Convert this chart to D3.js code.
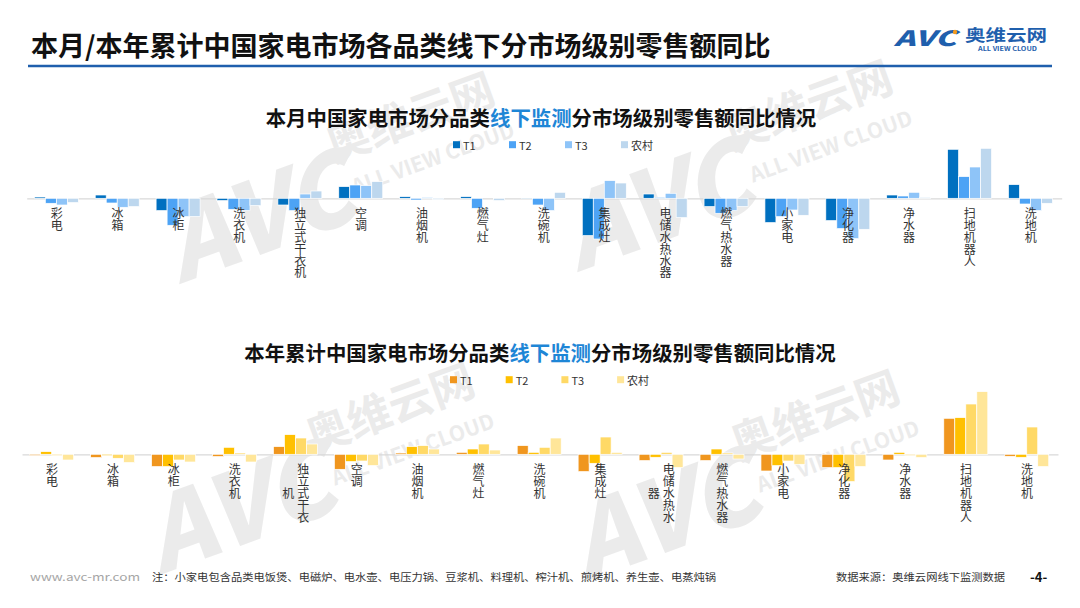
<!DOCTYPE html>
<html><head><meta charset="utf-8">
<script src="https://cdn.jsdelivr.net/npm/d3@7"></script>
<style>
body{margin:0;background:#fff}
svg{display:block}
text{font-family:"Noto Sans CJK SC","Noto Sans",sans-serif}
</style>
</head><body>
<svg id="c" width="1080" height="608"></svg>
<script>
// ---- data ----
const categories = ["彩电","冰箱","冰柜","洗衣机","独立式干衣机","空调","油烟机","燃气灶","洗碗机","集成灶","电储水热水器","燃气热水器","小家电","净化器","净水器","扫地机器人","洗地机"];
const seriesNames = ["T1","T2","T3","农村"];

// 本月 (%)
const monthT1    = [1.3, 3.3, -12.3, -2.3, -6.7, 11.7, 1.7, 1.7, -0.3, -37.3, 4.3, -8.3, -24.3, -22.3, 3.3, 49.0, 13.7];
const monthT2    = [-5.0, -4.7, -27.0, -11.0, -12.3, 13.3, -1.7, -10.0, -6.7, -40.7, 1.0, -15.0, -18.3, -30.3, 2.3, 21.7, -5.7];
const monthT3    = [-6.7, -9.0, -18.3, -12.3, 4.3, 12.7, 1.0, 0.0, -12.3, 17.7, 5.0, -12.3, -11.7, -40.3, 6.0, 31.3, -12.3];
const monthRural = [-4.3, -8.3, -18.3, -7.3, 7.3, 16.7, -1.3, -2.3, 6.0, 15.3, -19.3, -8.3, -17.0, -31.0, 1.0, 50.0, -5.0];

// 本年累计 (%)
const yearT1    = [-1.3, -3.3, -12.3, -2.3, 7.7, -15.0, 1.3, 2.0, 8.7, -17.3, -6.3, -6.3, -16.7, -13.3, -5.7, 36.0, -2.0];
const yearT2    = [2.7, -1.3, -12.3, 7.0, 19.7, -7.3, 7.7, 5.3, 2.0, -9.0, -3.0, 5.3, -11.3, -13.3, 2.0, 36.7, -3.0];
const yearT3    = [-1.3, -4.0, -5.7, 1.3, 16.3, -6.7, 8.7, 10.3, 7.0, 17.3, 2.0, 1.3, -6.7, -27.3, -1.3, 50.3, 27.3];
const yearRural = [-5.7, -8.3, -7.7, -7.7, 10.3, -11.3, 5.3, 4.3, 16.3, 2.0, -13.3, -4.7, -10.0, -12.3, -3.3, 62.7, -12.3];

const mainTitle = "本月/本年累计中国家电市场各品类线下分市场级别零售额同比";
const title1Parts = ["本月中国家电市场分品类", "线下监测", "分市场级别零售额同比情况"];
const title2Parts = ["本年累计中国家电市场分品类", "线下监测", "分市场级别零售额同比情况"];
const footNote = "注：小家电包含品类电饭煲、电磁炉、电水壶、电压力锅、豆浆机、料理机、榨汁机、煎烤机、养生壶、电蒸炖锅";
const footSource = "数据来源：奥维云网线下监测数据";
const footUrl = "www.avc-mr.com";
const pageNo = "-4-";

const monthColors = ["#0070C0", "#4DA3F5", "#8EC4F8", "#BDD7EE"];
const yearColors  = ["#F0961E", "#FFC000", "#FFD966", "#FFE699"];

// ---- drawing ----
const svg = d3.select("#c");

// watermarks
function watermark(ax, ay){
  const g = svg.append("g").attr("transform", `translate(${ax},${ay}) rotate(-20)`)
    .attr("fill", "#d0d0d0").attr("opacity", 0.42);
  g.append("text").attr("x", 0).attr("y", 0).attr("font-size", 100).attr("font-weight", 900)
    .attr("font-style", "italic").attr("font-family", "Liberation Sans, sans-serif").text("AVC");
  g.append("text").attr("x", 185).attr("y", -62).attr("font-size", 44).attr("font-weight", 700).text("奥维云网");
  g.append("text").attr("x", 195).attr("y", -24).attr("font-size", 21).attr("font-weight", 700)
    .attr("font-family", "Liberation Sans, sans-serif").text("ALL VIEW CLOUD");
}
watermark(180, 284);
watermark(578, 272);
watermark(160, 575);
watermark(585, 582);

// header
svg.append("text").attr("x", 31).attr("y", 44).attr("dominant-baseline", "central")
  .attr("font-size", 27).attr("font-weight", 700).attr("fill", "#111").text(mainTitle);
svg.append("line").attr("x1", 28).attr("x2", 1052).attr("y1", 66).attr("y2", 66)
  .attr("stroke", "#1F5FAD").attr("stroke-width", 2.5);

// logo
const logo = svg.append("g");
logo.append("text").attr("x", 894).attr("y", 46).attr("font-size", 21).attr("font-weight", 900)
  .attr("font-style", "italic").attr("font-family", "Liberation Sans, sans-serif")
  .attr("fill", "#1F5FAD").attr("textLength", 62).attr("lengthAdjust", "spacingAndGlyphs").text("AVC");
logo.append("circle").attr("cx", 955).attr("cy", 32).attr("r", 2.2).attr("fill", "#F39A1E");
logo.append("text").attr("x", 965).attr("y", 41).attr("font-size", 16).attr("font-weight", 700)
  .attr("fill", "#1F5FAD").attr("textLength", 82).attr("lengthAdjust", "spacingAndGlyphs").text("奥维云网");
logo.append("text").attr("x", 978).attr("y", 51).attr("font-size", 5.5).attr("font-weight", 700)
  .attr("font-family", "Liberation Sans, sans-serif")
  .attr("fill", "#1F5FAD").attr("textLength", 59).attr("lengthAdjust", "spacingAndGlyphs").text("ALL VIEW CLOUD");

function drawChart(cfg){
  const g = svg.append("g");
  const x = d3.scaleBand().domain(categories).range([cfg.x0, cfg.x1]);
  const groupW = 44;
  const inner = d3.scaleBand().domain(seriesNames).range([0, groupW]);
  const y = d3.scaleLinear().domain([-60, 60]).range([cfg.base + 60, cfg.base - 60]);

  // title
  const t = g.append("text").attr("x", cfg.titleX).attr("y", cfg.titleY).attr("text-anchor", "middle")
    .attr("dominant-baseline", "central").attr("font-size", 20.4).attr("font-weight", 700);
  cfg.titleParts.forEach((p, i) => t.append("tspan").attr("fill", i === 1 ? "#1E86D6" : "#111").text(p));

  // legend
  const lg = g.append("g");
  seriesNames.forEach((s, i) => {
    const lx = cfg.legendX + i * cfg.legendStep;
    lg.append("rect").attr("x", lx).attr("y", cfg.legendY - 3.5).attr("width", 7).attr("height", 7).attr("fill", cfg.colors[i]);
    lg.append("text").attr("x", lx + 10).attr("y", cfg.legendY).attr("dominant-baseline", "central")
      .attr("font-size", 11).attr("fill", "#333").text(s);
  });

  // axis line
  const ax = g.append("g").attr("transform", `translate(0,${cfg.base})`)
    .call(d3.axisBottom(x).tickSize(0).tickSizeOuter(0).tickFormat(""));
  ax.select(".domain").attr("stroke", "#D9D9D9").attr("stroke-width", 1.2);

  // bars
  const rows = categories.map((c, ci) => seriesNames.map((s, si) => ({c, s, si, v: cfg.values[si][ci]})));
  const grp = g.selectAll(".grp").data(rows).join("g")
    .attr("transform", (d, i) => `translate(${x(categories[i]) + (x.bandwidth() - groupW) / 2 - 0.8},0)`);
  grp.selectAll("rect").data(d => d).join("rect")
    .attr("x", d => inner(d.s))
    .attr("width", inner.bandwidth())
    .attr("y", d => Math.min(y(d.v), y(0)))
    .attr("height", d => Math.abs(y(d.v) - y(0)))
    .attr("fill", d => cfg.colors[d.si])
    .attr("stroke", "#fff").attr("stroke-width", 0.7);

  // vertical category labels: one text per column, one tspan per character
  categories.forEach(c => {
    const chars = Array.from(c);
    const R = Math.min(chars.length, cfg.maxRows);
    const ncols = Math.ceil(chars.length / cfg.maxRows);
    const cx = x(c) + x.bandwidth() / 2 - 0.5;
    for (let col = 0; col < ncols; col++) {
      const part = chars.slice(col * cfg.maxRows, (col + 1) * cfg.maxRows);
      const start = (R - part.length) / 2;
      const colX = cx + ((ncols - 1) / 2 - col) * 15;
      const tx = g.append("text").attr("text-anchor", "middle").attr("dominant-baseline", "central")
        .attr("font-size", 12).attr("fill", "#333");
      part.forEach((ch, k) => {
        tx.append("tspan").attr("x", colX).attr("y", cfg.base + 14 + (start + k) * 11.8).text(ch);
      });
    }
  });
}

drawChart({
  x0: 26.7, x1: 1061.7, base: 198.3,
  values: [monthT1, monthT2, monthT3, monthRural], colors: monthColors,
  maxRows: 6, titleParts: title1Parts, titleX: 541, titleY: 117,
  legendX: 453, legendY: 144.7, legendStep: 56
});
drawChart({
  x0: 22, x1: 1058, base: 454.3,
  values: [yearT1, yearT2, yearT3, yearRural], colors: yearColors,
  maxRows: 5, titleParts: title2Parts, titleX: 540, titleY: 352,
  legendX: 450, legendY: 379.7, legendStep: 55.7
});

// footer
svg.append("text").attr("x", 30).attr("y", 576).attr("dominant-baseline", "central")
  .attr("font-size", 11).attr("fill", "#A6A6A6").attr("font-family", "DejaVu Sans Mono, monospace")
  .attr("textLength", 110).attr("lengthAdjust", "spacingAndGlyphs").text(footUrl);
svg.append("text").attr("x", 152).attr("y", 576).attr("dominant-baseline", "central")
  .attr("font-size", 10).attr("fill", "#333").attr("textLength", 564).attr("lengthAdjust", "spacingAndGlyphs").text(footNote);
svg.append("text").attr("x", 836).attr("y", 576).attr("dominant-baseline", "central")
  .attr("font-size", 10).attr("fill", "#333").attr("textLength", 169).attr("lengthAdjust", "spacingAndGlyphs").text(footSource);
svg.append("text").attr("x", 1030).attr("y", 576).attr("dominant-baseline", "central")
  .attr("font-size", 13).attr("font-weight", 700).attr("fill", "#111").text(pageNo);
</script>
</body></html>
